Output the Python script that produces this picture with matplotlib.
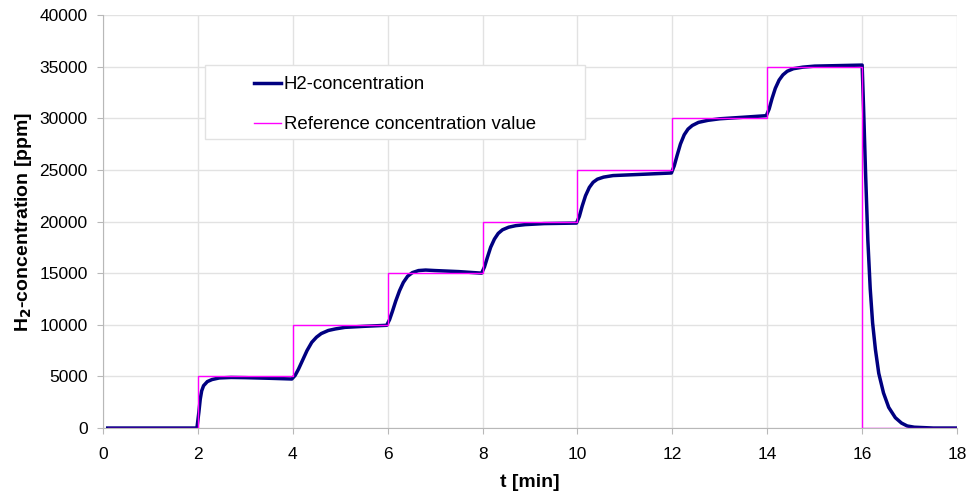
import numpy as np
import matplotlib.pyplot as plt
from matplotlib.patches import Rectangle

plt.rcParams['font.family'] = ['Liberation Sans', 'DejaVu Sans']

t_h2 = [0.1, 1.0, 1.98,
        2.02, 2.05, 2.08, 2.12, 2.2, 2.3, 2.45, 2.7, 3.0, 3.5, 3.98,
        4.05, 4.12, 4.2, 4.3, 4.4, 4.5, 4.6, 4.75, 4.9, 5.1, 5.5, 5.98,
        6.04, 6.1, 6.17, 6.25, 6.33, 6.42, 6.52, 6.65, 6.8, 7.0, 7.5, 7.98,
        8.04, 8.1, 8.17, 8.25, 8.33, 8.42, 8.55, 8.7, 8.9, 9.3, 9.98,
        10.04, 10.1, 10.17, 10.25, 10.33, 10.42, 10.55, 10.75, 11.0, 11.5, 11.98,
        12.04, 12.1, 12.17, 12.25, 12.33, 12.42, 12.55, 12.75, 13.0, 13.5, 13.98,
        14.04, 14.1, 14.17, 14.25, 14.33, 14.42, 14.55, 14.75, 15.0, 15.5, 16.0,
        16.03, 16.07, 16.12, 16.17, 16.22, 16.28, 16.35, 16.45, 16.56, 16.7,
        16.83, 16.95, 17.1, 17.5, 18.0]
c_h2 = [0, 0, 0,
        1500, 2800, 3600, 4100, 4500, 4700, 4850, 4900, 4880, 4820, 4750,
        5100, 5700, 6500, 7500, 8300, 8800, 9150, 9450, 9600, 9750, 9850, 9950,
        10500, 11300, 12300, 13300, 14100, 14700, 15050, 15250, 15300, 15250, 15150, 15000,
        15600, 16500, 17500, 18300, 18850, 19200, 19450, 19600, 19700, 19800, 19850,
        20500, 21500, 22500, 23300, 23800, 24100, 24300, 24450, 24500, 24600, 24700,
        25400, 26400, 27500, 28400, 28950, 29300, 29600, 29800, 29950, 30100, 30250,
        30900, 31900, 32900, 33700, 34200, 34550, 34800, 34950, 35050, 35100, 35150,
        31000, 25000, 18200, 13500, 10200, 7600, 5300, 3400, 2000, 1000,
        480, 200, 80, 0, 0]

# reference concentration steps
t_ref = [0.1, 2, 4, 6, 8, 10, 12, 14, 16, 18]
c_ref = [0, 5000, 10000, 15000, 20000, 25000, 30000, 35000, 0, 0]

fig = plt.figure(figsize=(9.67, 4.92), dpi=100)
ax = fig.add_axes([0.1065, 0.130, 0.8832, 0.8395])

ax.plot(t_h2, c_h2, color='#000080', lw=2.5, label='H2-concentration', zorder=3)
ax.step(t_ref, c_ref, where='post', color='#FF00FF', lw=1.0,
        label='Reference concentration value', zorder=4)

ax.set_xlim(0, 18)
ax.set_ylim(0, 40000)
ax.set_xticks(np.arange(0, 19, 2))
ax.set_yticks(np.arange(0, 40001, 5000))
ax.grid(True, color='#e2e2e2', lw=1.0)
ax.set_axisbelow(True)
for s in ['top', 'right']:
    ax.spines[s].set_visible(False)
for s in ['left', 'bottom']:
    ax.spines[s].set_color('#b8b8b8')
ax.tick_params(axis='both', labelsize=12.5, color='#b8b8b8', length=4,
               labelcolor='black')
ax.tick_params(axis='x', pad=10)
ax.tick_params(axis='y', pad=7)
ax.set_xlabel('t [min]', fontsize=14, fontweight='bold', labelpad=8)
ax.set_ylabel('H$_\\mathbf{2}$-concentration [ppm]', fontsize=14,
              fontweight='bold', labelpad=4)

# legend box drawn separately to get the wide side padding
ax.add_patch(Rectangle((0.119, 0.70), 0.445, 0.179, transform=ax.transAxes,
                       facecolor='white', edgecolor='#e2e2e2', lw=1.0, zorder=5))
leg = ax.legend(loc='upper left', bbox_to_anchor=(0.1765, 0.852), fontsize=13.4,
                frameon=False, handlelength=1.45, handletextpad=0.15,
                borderpad=0, labelspacing=1.25, borderaxespad=0)
leg.set_zorder(6)

fig.savefig('out.png', dpi=100)
